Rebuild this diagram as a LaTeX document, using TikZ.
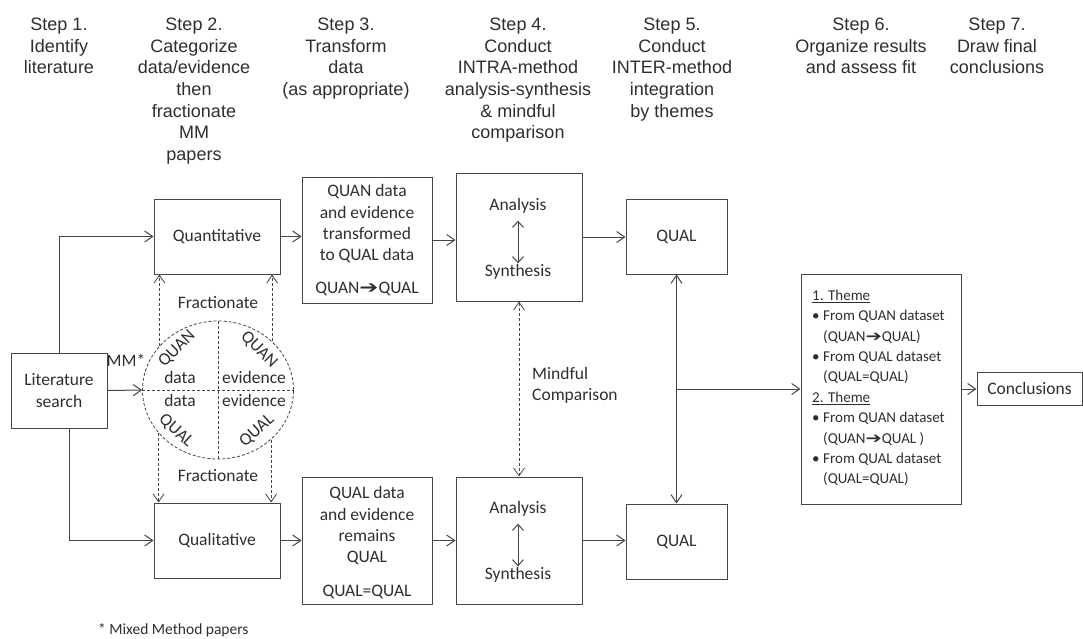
\documentclass[tikz,border=0pt]{standalone}
\usepackage{fontspec}
\usepackage{graphicx}
\setmainfont{Carlito}
\newfontfamily\hdrfont{Liberation Sans}
\newfontfamily\dvfont{DejaVu Sans}
\usetikzlibrary{arrows.meta,shapes.geometric}
\definecolor{ln}{HTML}{454545}
\definecolor{tx}{HTML}{2E2E2E}
\newcommand\harr{\scalebox{1.3}[1]{\dvfont ➔}}
\begin{document}
\begin{tikzpicture}[x=1pt,y=-1pt,
  >={Straight Barb[length=8pt,width=11pt]},
  hdr/.style={font=\hdrfont\fontsize{18}{21.6}\selectfont, text=tx, align=center, anchor=north, inner sep=0pt},
  box/.style={draw=ln, line width=1pt, rectangle, inner sep=0pt},
  txt/.style={font=\fontsize{17.5}{21.3}\selectfont, text=tx, align=center, inner sep=0pt},
  conn/.style={draw=ln, line width=1pt, ->},
  dconn/.style={draw=ln, line width=0.8pt, dash pattern=on 3pt off 2pt},
  dbl/.style={draw=ln, line width=1pt, {Straight Barb[length=6pt,width=11pt]}-{Straight Barb[length=6pt,width=11pt]}},
  smalltxt/.style={font=\fontsize{15}{20.4}\selectfont, text=tx, align=left, inner sep=0pt}
]
\useasboundingbox (0,0) rectangle (1083,638);

% headers
\node[hdr] (h1) at (59,18) {Step 1.\\Identify\\literature};
\node[hdr] (h2) at (194,18) {Step 2.\\Categorize\\data/evidence\\then\\fractionate\\MM\\papers};
\node[hdr] (h3) at (346,18) {Step 3.\\Transform\\data\\(as appropriate)};
\node[hdr] (h4) at (518,18) {Step 4.\\Conduct\\INTRA-method\\analysis-synthesis\\\& mindful\\comparison};
\node[hdr] (h5) at (672,18) {Step 5.\\Conduct\\INTER-method\\integration\\by themes};
\node[hdr] (h6) at (861,18) {Step 6.\\Organize results\\and assess fit};
\node[hdr] (h7) at (997,18) {Step 7.\\Draw final\\conclusions};

% boxes
\node[box, txt, minimum width=96pt, minimum height=75pt] (lit) at (59,390.5) {Literature\\search};
\node[box, txt, minimum width=126pt, minimum height=75pt] (quant) at (217,236.5) {Quantitative};
\node[box, txt, minimum width=126pt, minimum height=75pt] (qual) at (217,540.5) {Qualitative};
\node[box, minimum width=130pt, minimum height=126pt] (t3a) at (367,240) {};
\node[txt] (t3atx) at (367,224) {QUAN data\\and evidence\\transformed\\to QUAL data};
\node[txt] (t3aeq) at (367,289) {QUAN\harr QUAL};
\node[box, minimum width=130pt, minimum height=127pt] (t3b) at (367,540.5) {};
\node[txt] (t3btx) at (367,526) {QUAL data\\and evidence\\remains\\QUAL};
\node[txt] (t3beq) at (367,592) {QUAL=QUAL};
\node[box, minimum width=126pt, minimum height=128pt] (s4a) at (519,237) {};
\node[txt] (an1) at (518,206) {Analysis};
\node[txt] (sy1) at (518,272) {Synthesis};
\node[box, minimum width=126pt, minimum height=127pt] (s4b) at (519,540.5) {};
\node[txt] (an2) at (518,509) {Analysis};
\node[txt] (sy2) at (518,575) {Synthesis};
\node[box, txt, minimum width=101pt, minimum height=75pt] (q5a) at (676.5,236.5) {QUAL};
\node[box, txt, minimum width=101pt, minimum height=75pt] (q5b) at (676.5,541.5) {QUAL};
\node[box, minimum width=160pt, minimum height=230pt] (theme) at (881,389) {};
\node[smalltxt, anchor=west] (themetx) at (812,388) {\underline{1. Theme}\\
\makebox[11pt][l]{•}From QUAN dataset\\
\hspace*{11pt}(QUAN\harr QUAL)\\
\makebox[11pt][l]{•}From QUAL dataset\\
\hspace*{11pt}(QUAL=QUAL)\\
\underline{2. Theme}\\
\makebox[11pt][l]{•}From QUAN dataset\\
\hspace*{11pt}(QUAN\harr QUAL )\\
\makebox[11pt][l]{•}From QUAL dataset\\
\hspace*{11pt}(QUAL=QUAL)};
\node[box, txt, minimum width=105pt, minimum height=33pt] (concl) at (1029.5,388.5) {Conclusions};

% ellipse
\node[draw=ln, line width=0.8pt, dash pattern=on 3pt off 2pt, fill=white, ellipse, minimum width=151pt, minimum height=138pt, inner sep=0pt] (ell) at (218,390) {};
\draw[dconn] (ell.north) -- (ell.south);
\draw[dconn] (ell.west) -- (ell.east);
\node[txt] (d1) at (180,377) {data};
\node[txt] (e1) at (254,377) {evidence};
\node[txt] (d2) at (180,400) {data};
\node[txt] (e2) at (254,400) {evidence};
\node[txt, rotate=45] (qn1) at (177,349) {QUAN};
\node[txt, rotate=-45] (qn2) at (259,350) {QUAN};
\node[txt, rotate=-42] (ql1) at (176,431) {QUAL};
\node[txt, rotate=42] (ql2) at (257,431) {QUAL};
\node[txt] (mm) at (126,360) {MM*};
\node[txt] (fr1) at (218,303) {Fractionate};
\node[txt] (fr2) at (218,476) {Fractionate};

% dashed fractionate arrows
\draw[dconn,->] (ell.143.9) -- (ell.143.9 |- quant.south);
\draw[dconn,->] (ell.42.75) -- (ell.42.75 |- quant.south);
\draw[dconn,->] (ell.216.1) -- (ell.216.1 |- qual.north);
\draw[dconn,->] (ell.317.25) -- (ell.317.25 |- qual.north);

% connectors
\draw[conn] (lit.north) |- (quant.west);
\draw[conn] ([xshift=10pt]lit.south) |- (qual.west);
\draw[conn] (lit.east) -- (ell.west);
\draw[conn] (quant.east) -- (quant.east -| t3a.west);
\draw[conn] (qual.east) -- (qual.east -| t3b.west);
\draw[conn] (t3a.east) -- (t3a.east -| s4a.west);
\draw[conn] (t3b.east) -- (t3b.east -| s4b.west);
\draw[conn] (s4a.east) -- (s4a.east -| q5a.west);
\draw[conn] (s4b.east) -- (s4b.east -| q5b.west);
\draw[dbl, shorten <=7pt, shorten >=1pt] (an1.south) -- (sy1.north);
\draw[dbl, shorten <=7pt, shorten >=1pt] (an2.south) -- (sy2.north);
\draw[dconn,{Straight Barb[length=8pt,width=11pt]}-{Straight Barb[length=8pt,width=11pt]}] (s4a.south) -- (s4b.north);
\node[txt, align=left, anchor=west] (mind) at (532,385.5) {Mindful\\Comparison};
\draw[dbl, {Straight Barb[length=8pt,width=11pt]}-{Straight Barb[length=8pt,width=11pt]}] (q5a.south) -- (q5b.north);
\coordinate (br) at (676.5,389);
\draw[conn] (br) -- (br -| theme.west);
\draw[conn] (theme.east) -- (theme.east -| concl.west);

\node[font=\fontsize{15.5}{18}\selectfont, text=tx, anchor=west, inner sep=0pt] (fn) at (98,630) {* Mixed Method papers};
\end{tikzpicture}
\end{document}
